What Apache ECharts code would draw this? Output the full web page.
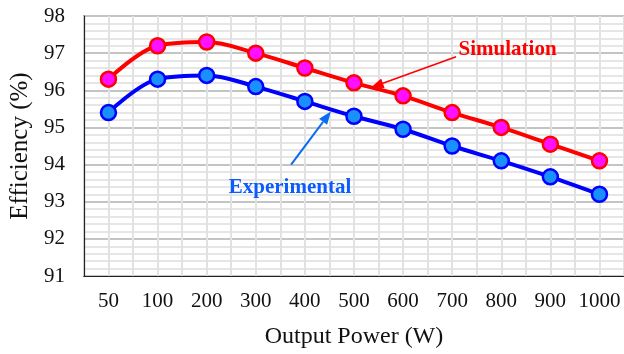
<!DOCTYPE html>
<html>
<head>
<meta charset="utf-8">
<script src="https://cdn.jsdelivr.net/npm/echarts@6/dist/echarts.min.js"></script>
<style>html,body{margin:0;padding:0;background:#fff}#c{width:624px;height:354px}</style>
</head>
<body>
<div id="c"></div>
<script>
const categories = ['50','100','200','300','400','500','600','700','800','900','1000'];
const simulation = [96.3, 97.2, 97.3, 97.0, 96.6, 96.2, 95.85, 95.4, 95.0, 94.55, 94.1];
const experimental = [95.4, 96.3, 96.4, 96.1, 95.7, 95.3, 94.95, 94.5, 94.1, 93.67, 93.2];
const yTicks = [91, 92, 93, 94, 95, 96, 97, 98];
// annotation anchors in data space (helper x: band units, y: efficiency)
const simLabel = {text: 'Simulation', x: 7.63, y: 97.09};
const expLabel = {text: 'Experimental', x: 2.95, y: 93.39};
const simArrow = {from: [7.58, 96.9], to: [5.84, 96.07]};
const expArrow = {from: [4.22, 94.0], to: [5.03, 95.43]};

const FONT = '"Liberation Serif", "Times New Roman", serif';
const chart = echarts.init(document.getElementById('c'), null, {renderer: 'canvas'});
const option = {
  animation: false,
  backgroundColor: '#fff',
  grid: {left: 83, right: -4, top: 16, bottom: 77, show: true, borderColor: '#222', borderWidth: 1.2, backgroundColor: 'transparent'},
  xAxis: [{
    type: 'category', data: categories, boundaryGap: true,
    name: 'Output Power (W)', nameLocation: 'middle', nameGap: 49,
    nameTextStyle: {fontFamily: FONT, fontSize: 24, color: '#111'},
    axisLine: {lineStyle: {color: '#222', width: 1.2}},
    axisTick: {show: false},
    axisLabel: {fontFamily: FONT, fontSize: 21, color: '#111', margin: 15, interval: 0},
    splitLine: {show: false}, z: 3
  }, {
    type: 'value', min: 0, max: 11, interval: 0.5, position: 'bottom',
    axisLine: {show: false}, axisTick: {show: false}, axisLabel: {show: false},
    splitLine: {show: true, lineStyle: {color: '#e2e2e2', width: 2}}
  }],
  yAxis: {
    type: 'value', min: yTicks[0], max: yTicks[yTicks.length - 1], interval: 1,
    name: 'Efficiency (%)', nameLocation: 'middle', nameGap: 46,
    nameTextStyle: {fontFamily: FONT, fontSize: 25, color: '#111'},
    axisLine: {show: true, lineStyle: {color: '#222', width: 1.2}},
    axisTick: {show: false},
    axisLabel: {fontFamily: FONT, fontSize: 21, color: '#111', margin: 19},
    splitLine: {show: true, lineStyle: {color: '#c4c4c4', width: 2}},
    minorTick: {show: false, splitNumber: 5},
    minorSplitLine: {show: true, lineStyle: {color: '#e6e6e6', width: 2}}
  },
  series: [{
    name: 'Simulation', type: 'line', data: simulation,
    symbol: 'circle', symbolSize: 15, z: 5, smooth: 0.35,
    lineStyle: {color: '#ff0000', width: 4},
    itemStyle: {color: '#ff10ff', borderColor: '#ff0000', borderWidth: 2.5}
  }, {
    name: 'Experimental', type: 'line', data: experimental,
    symbol: 'circle', symbolSize: 15, z: 5, smooth: 0.35,
    lineStyle: {color: '#0000ff', width: 4},
    itemStyle: {color: '#1a90ff', borderColor: '#0000ff', borderWidth: 2.5}
  }]
};
chart.setOption(option);

function px(p) {
  return [chart.convertToPixel({xAxisIndex: 1}, p[0]), chart.convertToPixel({yAxisIndex: 0}, p[1])];
}
function arrow(a, color, w, headLen, headW) {
  const f = px(a.from), t = px(a.to);
  const dx = t[0] - f[0], dy = t[1] - f[1];
  const L = Math.sqrt(dx * dx + dy * dy), ux = dx / L, uy = dy / L;
  const bx = t[0] - ux * headLen, by = t[1] - uy * headLen;
  const nx = -uy * headW / 2, ny = ux * headW / 2;
  return [{
    type: 'line', z: 20, shape: {x1: f[0], y1: f[1], x2: bx, y2: by},
    style: {stroke: color, lineWidth: w}
  }, {
    type: 'polygon', z: 20, shape: {points: [[t[0], t[1]], [bx + nx, by + ny], [bx - nx, by - ny]]},
    style: {fill: color}
  }];
}
function label(l, color) {
  const p = px([l.x, l.y]);
  return {type: 'text', z: 20, x: p[0], y: p[1],
    style: {text: l.text, fill: color, font: 'bold 21px ' + FONT, textVerticalAlign: 'middle', textAlign: 'left'}};
}
chart.setOption({graphic: [].concat(
  arrow(simArrow, '#ff0000', 1.6, 13, 10),
  arrow(expArrow, '#0a6cf0', 2, 13, 10),
  [label(simLabel, '#ff0000'), label(expLabel, '#0a5cff')]
)});
</script>
</body>
</html>
